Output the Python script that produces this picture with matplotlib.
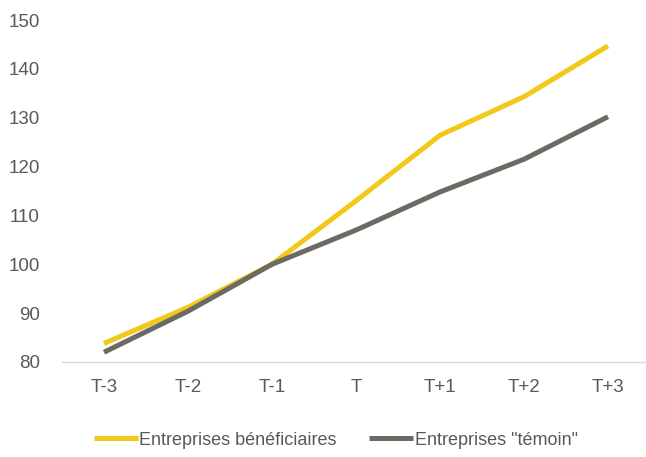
import matplotlib.pyplot as plt
from matplotlib import font_manager

periodes = ["T-3", "T-2", "T-1", "T", "T+1", "T+2", "T+3"]
beneficiaires = [83.8, 91.2, 100.0, 113.0, 126.4, 134.3, 144.7]
temoin = [82.0, 90.4, 100.0, 107.0, 114.8, 121.5, 130.2]

noms = {f.name for f in font_manager.fontManager.ttflist}
police = "Liberation Sans Narrow" if "Liberation Sans Narrow" in noms else "Liberation Sans"
plt.rcParams["font.family"] = [police, "DejaVu Sans"]

gris_texte = "#595959"
fig = plt.figure(figsize=(6.46, 4.57), dpi=100)
ax = fig.add_axes([62 / 646, 95 / 457, 588 / 646, 342 / 457])

x = range(len(periodes))
ax.plot(x, beneficiaires, color="#F2C81A", lw=3.6, solid_capstyle="butt",
        label="Entreprises bénéficiaires")
ax.plot(x, temoin, color="#6B6A63", lw=3.6, solid_capstyle="butt",
        label='Entreprises "témoin"')

ax.set_xlim(-0.5, 6.5)
ax.set_ylim(80, 150)
ax.set_yticks(range(80, 151, 10))
ax.set_xticks(list(x))
ax.set_xticklabels(periodes)

for s in ["top", "right", "left"]:
    ax.spines[s].set_visible(False)
ax.spines["bottom"].set_color("#D9D9D9")
ax.spines["bottom"].set_linewidth(1)
ax.tick_params(length=0, labelsize=13.5, colors=gris_texte)
ax.tick_params(axis="x", pad=12)
ax.tick_params(axis="y", pad=16)

fig.legend(loc="center", bbox_to_anchor=(0.52, 0.037), ncol=2, frameon=False,
           fontsize=13, labelcolor=gris_texte, handlelength=2.4,
           handletextpad=0.1, columnspacing=1.8)

fig.savefig("out.png", dpi=100)
